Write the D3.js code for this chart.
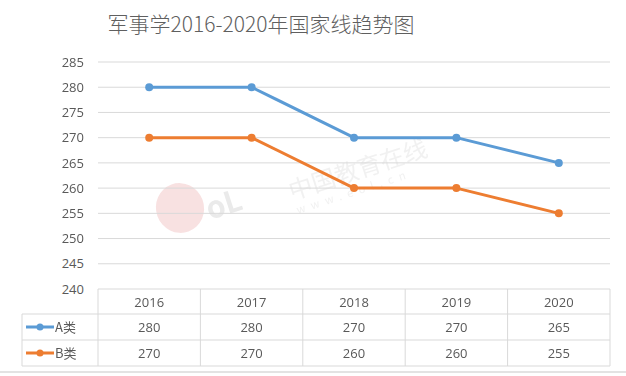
<!DOCTYPE html>
<html><head><meta charset="utf-8">
<script src="https://cdn.jsdelivr.net/npm/d3@7"></script>
<style>body{margin:0;background:#fff;}svg{display:block;font-family:"Noto Sans CJK SC","Noto Sans",sans-serif;}</style>
</head><body>
<svg id="c" width="626" height="376"></svg>
<script>
const title = "军事学2016-2020年国家线趋势图";
const years = ["2016","2017","2018","2019","2020"];
const seriesNames = ["A类","B类"];
const seriesA = [280,280,270,270,265];
const seriesB = [270,270,260,260,255];
const yTicks = [240,245,250,255,260,265,270,275,280,285];
const colors = ["#5B9BD5","#ED7D31"];

(function(){
const svg = d3.select("#c");
const pLeft = 98, pRight = 610, pTop = 62, pBottom = 289;
const x = d3.scaleBand().domain(years).range([pLeft, pRight]);
const y = d3.scaleLinear().domain([240,285]).range([pBottom, pTop]);

// bottom border
svg.append("rect").attr("x",0).attr("y",371).attr("width",626).attr("height",2).attr("fill","#e3e3e3");

// title
svg.append("text").attr("x",261).attr("y",32).attr("text-anchor","middle")
  .attr("font-size",21).attr("font-weight",300).attr("fill","#5f5f5f").text(title);

// watermark
const wm = svg.append("g").attr("opacity",0.45);
wm.append("ellipse").attr("cx",180).attr("cy",208).attr("rx",24).attr("ry",25)
  .attr("transform","rotate(-20,180,208)").attr("fill","#f0bcbc");
wm.append("text").attr("x",210).attr("y",220).attr("font-size",30).attr("font-weight","bold").attr("fill","#d0d0d0")
  .attr("transform","rotate(-18,210,220)").text("oL");
wm.append("text").attr("x",292).attr("y",200).attr("font-size",24).attr("fill","#e0e0e0")
  .attr("transform","rotate(-18,292,200)").text("中国教育在线");
wm.append("text").attr("x",298).attr("y",214).attr("font-size",11).attr("fill","#e0e0e0").attr("letter-spacing",6)
  .attr("transform","rotate(-18,298,214)").text("www.eol.cn");

// gridlines
svg.append("g").selectAll("line").data(yTicks.filter(d=>d>240)).join("line")
  .attr("x1",pLeft).attr("x2",pRight).attr("y1",d=>y(d)).attr("y2",d=>y(d))
  .attr("stroke","#d9d9d9").attr("stroke-width",1);

// y axis labels
const yAxis = d3.axisLeft(y).tickValues(yTicks).tickSize(0).tickPadding(0);
const ga = svg.append("g").attr("transform",`translate(84,0)`).call(yAxis);
ga.select(".domain").remove();
ga.selectAll("text").attr("font-size",13).attr("fill","#595959").attr("font-family","Open Sans, sans-serif");

// lines
const series = [seriesA, seriesB];
const line = d3.line().x((d,i)=>x(years[i])+x.bandwidth()/2).y(d=>y(d));
series.forEach((s,k)=>{
  svg.append("path").datum(s).attr("d",line).attr("fill","none")
    .attr("stroke",colors[k]).attr("stroke-width",3).attr("stroke-linejoin","round");
  svg.append("g").selectAll("circle").data(s).join("circle")
    .attr("cx",(d,i)=>x(years[i])+x.bandwidth()/2).attr("cy",d=>y(d)).attr("r",4).attr("fill",colors[k]);
});

// data table
const rowH = [289,314,340,366];
const tableLeft = 22;
const tg = svg.append("g");
const lc = "#d9d9d9";
tg.append("line").attr("x1",pLeft).attr("x2",pRight).attr("y1",rowH[0]).attr("y2",rowH[0]).attr("stroke",lc);
[1,2,3].forEach(i=>tg.append("line").attr("x1",tableLeft).attr("x2",pRight).attr("y1",rowH[i]).attr("y2",rowH[i]).attr("stroke",lc));
tg.append("line").attr("x1",tableLeft).attr("x2",tableLeft).attr("y1",rowH[1]).attr("y2",rowH[3]).attr("stroke",lc);
years.forEach(yr=>tg.append("line").attr("x1",x(yr)).attr("x2",x(yr)).attr("y1",rowH[0]).attr("y2",rowH[3]).attr("stroke",lc));
tg.append("line").attr("x1",pRight).attr("x2",pRight).attr("y1",rowH[0]).attr("y2",rowH[3]).attr("stroke",lc);
tg.selectAll("text.h").data(years).join("text").attr("class","h")
  .attr("x",d=>x(d)+x.bandwidth()/2).attr("y",(rowH[0]+rowH[1])/2+5)
  .attr("text-anchor","middle").attr("font-size",13).attr("fill","#595959").attr("font-family","Open Sans, sans-serif").text(d=>d);
series.forEach((s,k)=>{
  const cy = (rowH[k+1]+rowH[k+2])/2;
  tg.selectAll("text.v"+k).data(s).join("text").attr("class","v"+k)
    .attr("x",(d,i)=>x(years[i])+x.bandwidth()/2).attr("y",cy+5)
    .attr("text-anchor","middle").attr("font-size",13).attr("fill","#595959").attr("font-family","Open Sans, sans-serif").text(d=>d);
  tg.append("line").attr("x1",26).attr("x2",54).attr("y1",cy).attr("y2",cy).attr("stroke",colors[k]).attr("stroke-width",3);
  tg.append("circle").attr("cx",40).attr("cy",cy).attr("r",3.5).attr("fill",colors[k]);
  tg.append("text").attr("x",55).attr("y",cy+5).attr("font-size",13).attr("fill","#595959").text(seriesNames[k]);
});
})();
</script>
</body></html>
